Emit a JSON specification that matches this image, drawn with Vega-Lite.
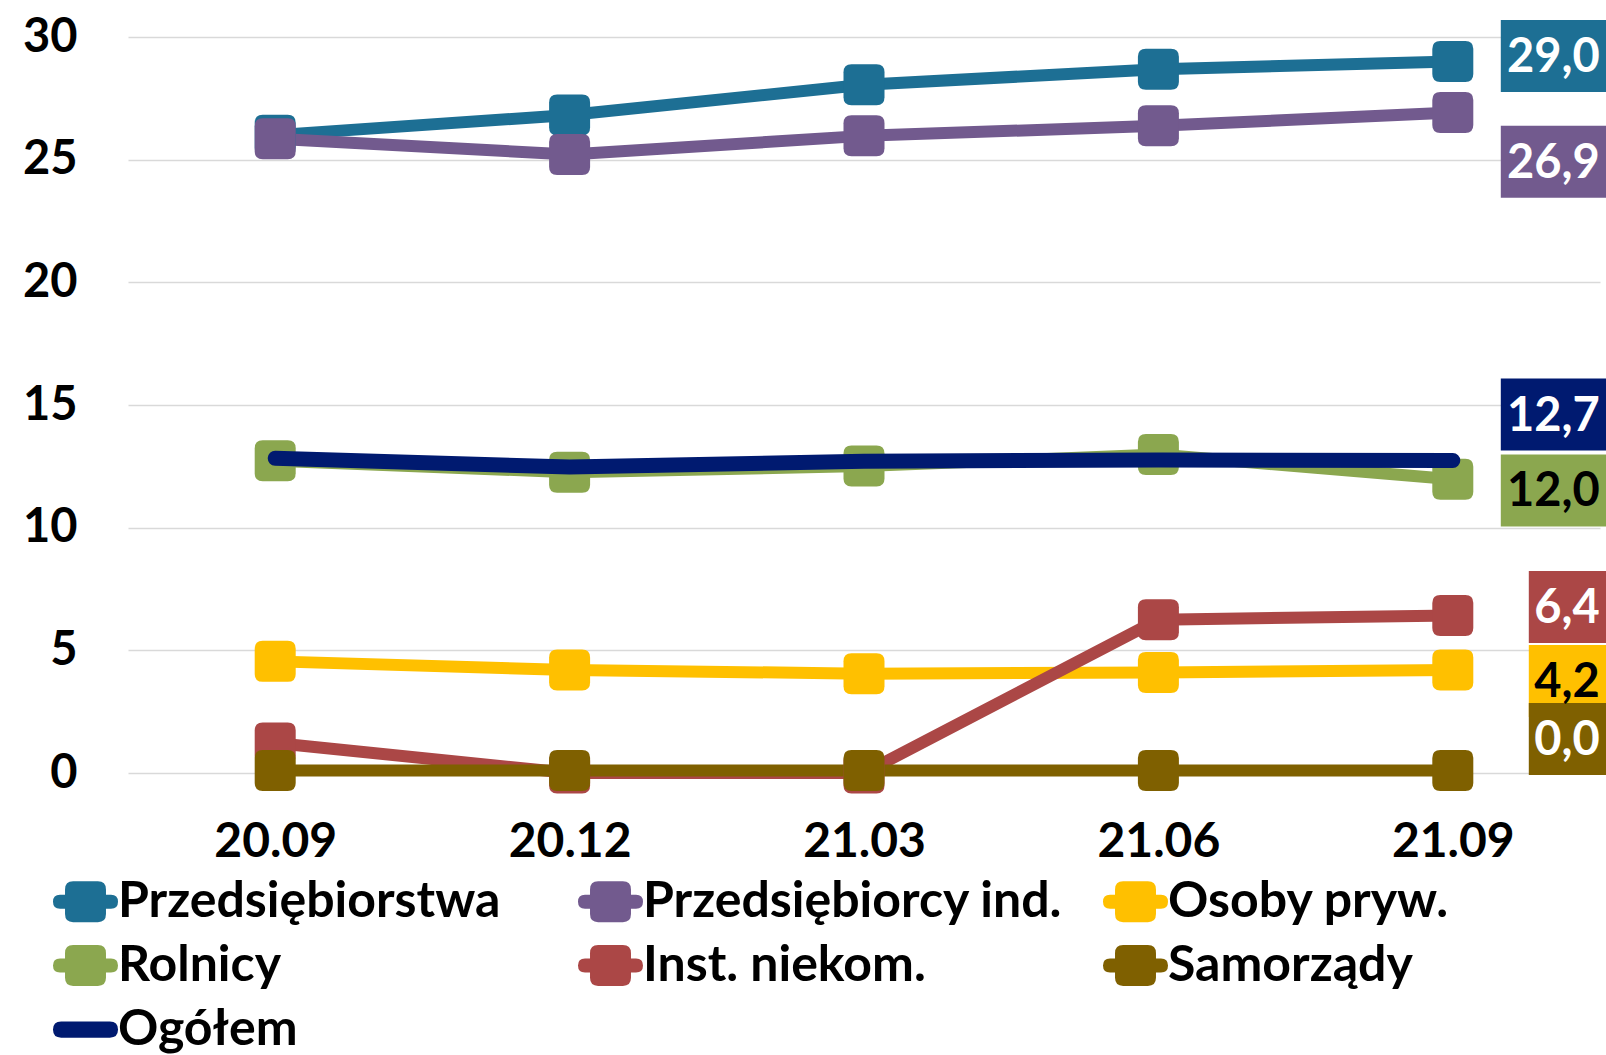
{
  "$schema": "https://vega.github.io/schema/vega-lite/v6.json",
  "autosize": "none",
  "width": 1472,
  "height": 736,
  "padding": {"left": 128, "top": 37, "right": 6, "bottom": 282},
  "background": "white",
  "config": {
    "view": {"stroke": null},
    "font": "Lato"
  },
  "datasets": {
    "series": [
      {"series": "Przedsiębiorstwa", "period": "20.09", "value": 26.0},
      {"series": "Przedsiębiorstwa", "period": "20.12", "value": 26.82},
      {"series": "Przedsiębiorstwa", "period": "21.03", "value": 28.05},
      {"series": "Przedsiębiorstwa", "period": "21.06", "value": 28.69},
      {"series": "Przedsiębiorstwa", "period": "21.09", "value": 29.0},
      {"series": "Przedsiębiorcy ind.", "period": "20.09", "value": 25.85},
      {"series": "Przedsiębiorcy ind.", "period": "20.12", "value": 25.21},
      {"series": "Przedsiębiorcy ind.", "period": "21.03", "value": 25.97},
      {"series": "Przedsiębiorcy ind.", "period": "21.06", "value": 26.38},
      {"series": "Przedsiębiorcy ind.", "period": "21.09", "value": 26.92},
      {"series": "Osoby pryw.", "period": "20.09", "value": 4.55},
      {"series": "Osoby pryw.", "period": "20.12", "value": 4.2},
      {"series": "Osoby pryw.", "period": "21.03", "value": 4.05},
      {"series": "Osoby pryw.", "period": "21.06", "value": 4.1},
      {"series": "Osoby pryw.", "period": "21.09", "value": 4.2},
      {"series": "Rolnicy", "period": "20.09", "value": 12.73},
      {"series": "Rolnicy", "period": "20.12", "value": 12.26},
      {"series": "Rolnicy", "period": "21.03", "value": 12.51},
      {"series": "Rolnicy", "period": "21.06", "value": 12.98},
      {"series": "Rolnicy", "period": "21.09", "value": 11.97},
      {"series": "Inst. niekom.", "period": "20.09", "value": 1.22},
      {"series": "Inst. niekom.", "period": "20.12", "value": 0.0},
      {"series": "Inst. niekom.", "period": "21.03", "value": 0.0},
      {"series": "Inst. niekom.", "period": "21.06", "value": 6.25},
      {"series": "Inst. niekom.", "period": "21.09", "value": 6.42},
      {"series": "Samorządy", "period": "20.09", "value": 0.1},
      {"series": "Samorządy", "period": "20.12", "value": 0.1},
      {"series": "Samorządy", "period": "21.03", "value": 0.1},
      {"series": "Samorządy", "period": "21.06", "value": 0.1},
      {"series": "Samorządy", "period": "21.09", "value": 0.1},
      {"series": "Ogółem", "period": "20.09", "value": 12.83},
      {"series": "Ogółem", "period": "20.12", "value": 12.47},
      {"series": "Ogółem", "period": "21.03", "value": 12.71},
      {"series": "Ogółem", "period": "21.06", "value": 12.76},
      {"series": "Ogółem", "period": "21.09", "value": 12.74}
    ],
    "labels": [
      {"series": "Przedsiębiorstwa", "period": "21.09", "text": "29,0", "pos": 29.23},
      {"series": "Przedsiębiorcy ind.", "period": "21.09", "text": "26,9", "pos": 24.91},
      {"series": "Ogółem", "period": "21.09", "text": "12,7", "pos": 14.61},
      {"series": "Rolnicy", "period": "21.09", "text": "12,0", "pos": 11.52},
      {"series": "Inst. niekom.", "period": "21.09", "text": "6,4", "pos": 6.77},
      {"series": "Osoby pryw.", "period": "21.09", "text": "4,2", "pos": 3.75},
      {"series": "Samorządy", "period": "21.09", "text": "0,0", "pos": 1.39}
    ]
  },
  "encoding": {
    "x": {
      "field": "period", "type": "ordinal",
      "scale": {"type": "point", "padding": 0.5, "domain": ["20.09", "20.12", "21.03", "21.06", "21.09"]},
      "axis": {
        "title": null, "labelAngle": 0, "domain": false, "ticks": false, "tickSize": 0, "grid": false,
        "labelFont": "Lato", "labelFontWeight": "bold", "labelFontSize": 48, "labelColor": "#000000",
        "labelPadding": 45
      }
    },
    "color": {
      "field": "series", "type": "nominal",
      "scale": {
        "domain": ["Przedsiębiorstwa", "Przedsiębiorcy ind.", "Osoby pryw.", "Rolnicy", "Inst. niekom.", "Samorządy", "Ogółem"],
        "range": ["#1D6F94", "#725A8E", "#FFC000", "#8BA74F", "#AB4746", "#7F6000", "#001A70"]
      },
      "legend": {
        "title": null,
        "orient": "none",
        "legendX": -75,
        "legendY": 832,
        "direction": "horizontal",
        "columns": 3,
        "gridAlign": "all",
        "columnPadding": 40,
        "rowPadding": 6,
        "symbolSize": 4225,
        "symbolStrokeWidth": 0,
        "labelFont": "Lato",
        "labelFontWeight": "bold",
        "labelFontSize": 50,
        "labelColor": "#000000",
        "labelOffset": 0,
        "labelLimit": 0,
        "encode": {
          "symbols": {
            "update": {
              "shape": [
                {"test": "datum.value === 'Ogółem'", "value": "M-0.75,-0.25H0.75Q1,-0.25 1,0Q1,0.25 0.75,0.25H-0.75Q-1,0.25 -1,0Q-1,-0.25 -0.75,-0.25Z"},
                {"value": "M-0.38,-0.63H0.38Q0.63,-0.63 0.63,-0.38V-0.215H0.785Q1,-0.215 1,0Q1,0.215 0.785,0.215H0.63V0.38Q0.63,0.63 0.38,0.63H-0.38Q-0.63,0.63 -0.63,0.38V0.215H-0.785Q-1,0.215 -1,0Q-1,-0.215 -0.785,-0.215H-0.63V-0.38Q-0.63,-0.63 -0.38,-0.63Z"}
              ],
              "fill": {"scale": "color", "field": "value"},
              "fillOpacity": {"value": 1},
              "opacity": {"value": 1},
              "strokeWidth": {"value": 0}
            }
          }
        }
      }
    }
  },
  "layer": [
    {
      "data": {"name": "series"},
      "transform": [{"filter": "datum.series !== 'Ogółem'"}],
      "mark": {"type": "line", "strokeWidth": 12, "strokeCap": "round", "strokeJoin": "round"},
      "encoding": {
        "y": {
          "field": "value", "type": "quantitative",
          "scale": {"domain": [0, 30], "nice": false, "zero": true},
          "axis": {
            "title": null, "values": [0, 5, 10, 15, 20, 25, 30], "domain": false, "ticks": false, "tickSize": 0,
            "grid": true, "gridColor": "#D9D9D9", "gridWidth": 1.3,
            "labelFont": "Lato", "labelFontWeight": "bold", "labelFontSize": 47, "labelColor": "#000000",
            "labelPadding": 51
          }
        }
      }
    },
    {
      "data": {"name": "series"},
      "transform": [{"filter": "datum.series !== 'Ogółem'"}],
      "mark": {
        "type": "point", "filled": true, "opacity": 1, "size": 1681,
        "shape": "M-0.61,-1H0.61Q1,-1 1,-0.61V0.61Q1,1 0.61,1H-0.61Q-1,1 -1,0.61V-0.61Q-1,-1 -0.61,-1Z"
      },
      "encoding": {
        "y": {"field": "value", "type": "quantitative"}
      }
    },
    {
      "data": {"name": "series"},
      "transform": [{"filter": "datum.series === 'Ogółem'"}],
      "mark": {"type": "line", "strokeWidth": 15, "strokeCap": "round", "strokeJoin": "round"},
      "encoding": {
        "y": {"field": "value", "type": "quantitative"}
      }
    },
    {
      "data": {"name": "labels"},
      "transform": [{"filter": "length(datum.text) === 4"}],
      "mark": {
        "type": "point", "filled": true, "opacity": 1, "size": 40000, "xOffset": 148,
        "shape": "M-1,-0.36H1V0.36H-1Z"
      },
      "encoding": {
        "y": {"field": "pos", "type": "quantitative"}
      }
    },
    {
      "data": {"name": "labels"},
      "transform": [{"filter": "length(datum.text) === 3"}],
      "mark": {
        "type": "point", "filled": true, "opacity": 1, "size": 40000, "xOffset": 176,
        "shape": "M-1,-0.36H1V0.36H-1Z"
      },
      "encoding": {
        "y": {"field": "pos", "type": "quantitative"}
      }
    },
    {
      "data": {"name": "labels"},
      "mark": {
        "type": "text", "align": "right", "baseline": "middle", "dx": 147, "dy": 2,
        "font": "Lato", "fontWeight": "bold", "fontSize": 47
      },
      "encoding": {
        "y": {"field": "pos", "type": "quantitative"},
        "text": {"field": "text", "type": "nominal"},
        "color": {
          "condition": {"test": "datum.series === 'Rolnicy' || datum.series === 'Osoby pryw.'", "value": "#000000"},
          "value": "#FFFFFF"
        }
      }
    }
  ]
}
